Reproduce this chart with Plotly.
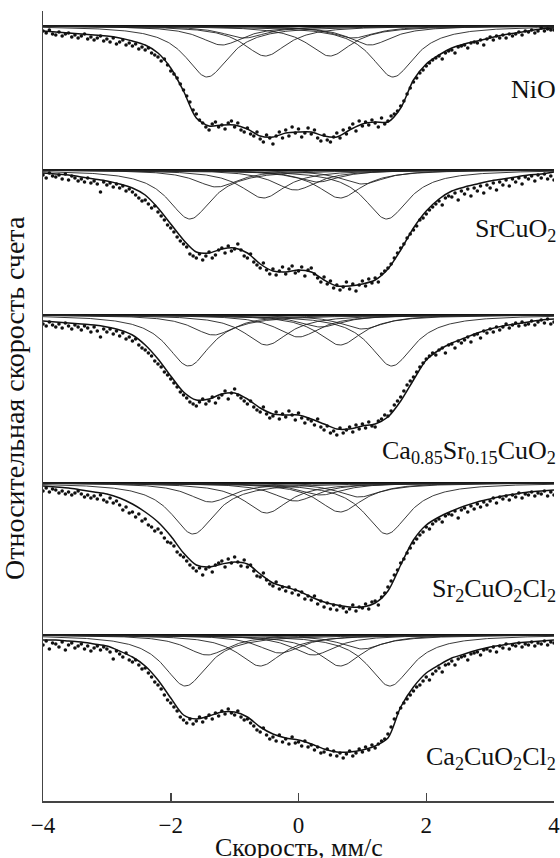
import numpy as np
import plotly.graph_objects as go

# ---------------- data ----------------
SAMPLES = ["NiO",
           "SrCuO<sub>2</sub>",
           "Ca<sub>0.85</sub>Sr<sub>0.15</sub>CuO<sub>2</sub>",
           "Sr<sub>2</sub>CuO<sub>2</sub>Cl<sub>2</sub>",
           "Ca<sub>2</sub>CuO<sub>2</sub>Cl<sub>2</sub>"]

X_TICKS = [-4, -2, 0, 2, 4]

# velocity grids (mm/s): measured channels and fitted-curve nodes
VEL_DATA = np.round(np.arange(161) * 0.05 - 4.0, 2)
VEL_FIT = np.round(np.arange(41) * 0.2 - 4.0, 2)

# absorption depth (arbitrary units, 0 = baseline) of the fitted envelope
FIT_NIO = [5, 6, 7, 8, 9, 10, 12, 15, 19, 27, 42, 65, 92, 100, 99, 99, 103, 110, 111, 107, 106,
           106, 110, 111, 104, 98, 96, 96, 82, 54, 38, 29, 22, 18, 15, 12, 9, 7, 5, 3, 2]
FIT_SRCUO2 = [3, 4, 5, 7, 9, 11, 14, 18, 25, 38, 54, 70, 82, 83, 79, 78, 83, 94, 101, 102, 100,
              102, 110, 116, 116, 114, 110, 99, 80, 58, 41, 29, 21, 17, 14, 11, 9, 7, 5, 4, 2]
FIT_CASRCUO2 = [6, 7, 8, 9, 10, 12, 15, 20, 30, 44, 61, 77, 85, 84, 79, 78, 84, 93, 99, 100, 100,
                104, 109, 114, 114, 111, 109, 102, 86, 65, 45, 35, 28, 23, 18, 14, 11, 9, 7, 5, 4]
FIT_SR2CUO2CL2 = [3, 4, 5, 7, 9, 11, 15, 21, 29, 39, 53, 70, 82, 84, 81, 79, 81, 91, 100, 104, 108,
                  114, 119, 122, 124, 124, 120, 108, 82, 57, 42, 34, 28, 23, 19, 16, 13, 11, 9, 8, 7]
FIT_CA2CUO2CL2 = [5, 5, 6, 7, 9, 11, 16, 22, 31, 45, 63, 80, 84, 81, 77, 77, 82, 92, 99, 103, 105,
                  109, 114, 117, 117, 115, 111, 103, 72, 52, 38, 30, 23, 19, 15, 12, 10, 8, 7, 6, 5]

# measured points (absorption depth, same units)
DATA_NIO = [5, 7, 4, 8, 9, 6, 10, 8, 7, 11, 9, 12, 10, 8, 13, 11, 14, 12, 10, 15,
            13, 16, 12, 18, 16, 14, 19, 17, 20, 18, 23, 21, 24, 22, 27, 29, 31, 35, 33, 39,
            45, 48, 52, 58, 64, 70, 76, 84, 88, 94, 97, 101, 104, 98, 96, 101, 99, 103, 97, 95,
            101, 97, 104, 106, 102, 108, 110, 106, 113, 116, 109, 112, 118, 110, 106, 112,
            104, 110, 101, 107, 103, 111, 107, 102, 108, 104, 112, 115, 109, 114, 116, 111,
            107, 112, 104, 108, 102, 98, 105, 95, 100, 96, 99, 94, 97, 101, 92, 98, 95, 90, 88, 85,
            80, 75, 68, 62, 56, 52, 47, 44, 40, 37, 34, 32, 30, 33, 27, 25, 24, 27, 21, 20,
            19, 22, 17, 16, 17, 14, 19, 13, 11, 14, 10, 12, 9, 12, 8, 10, 8, 6, 9, 5,
            6, 4, 7, 5, 2, 5, 3, 4, 4]
DATA_SRCUO2 = [5, 8, 3, 6, 7, 5, 9, 4, 10, 6, 8, 11, 9, 12, 8, 13, 11, 14, 22, 12,
               15, 13, 17, 14, 18, 16, 21, 19, 22, 25, 28, 31, 30, 34, 38, 36, 42, 46, 50, 55,
               58, 62, 67, 71, 74, 77, 84, 86, 88, 84, 90, 86, 82, 88, 85, 80, 78, 83, 76, 81,
               79, 74, 80, 86, 88, 84, 92, 95, 98, 93, 100, 104, 99, 105, 101, 97, 104, 99, 96, 103,
               101, 97, 106, 100, 98, 104, 108, 112, 107, 114, 111, 118, 115, 120, 117, 112,
               119, 114, 121, 115, 111, 116, 109, 113, 108, 112, 104, 101, 98, 94, 88, 83,
               78, 74, 68, 64, 60, 56, 50, 48, 44, 40, 37, 34, 31, 35, 28, 26, 27, 23, 30, 21,
               24, 19, 26, 18, 21, 16, 23, 15, 18, 13, 20, 12, 15, 10, 16, 9, 12, 8, 14, 7,
               9, 6, 11, 5, 8, 4, 9, 6, 10]
DATA_CASRCUO2 = [9, 11, 7, 10, 12, 9, 13, 8, 11, 14, 10, 12, 15, 11, 13, 17, 12, 16, 22, 14,
                 17, 14, 19, 16, 21, 18, 24, 22, 26, 24, 30, 33, 35, 38, 41, 46, 49, 52, 57, 60,
                 64, 68, 72, 77, 80, 83, 87, 89, 91, 87, 84, 89, 86, 82, 88, 83, 80, 76, 84, 78,
                 74, 80, 83, 86, 89, 86, 92, 95, 97, 92, 99, 103, 101, 97, 104, 99, 102, 96, 100, 105,
                 98, 103, 108, 104, 106, 110, 104, 112, 115, 111, 118, 116, 120, 113, 118, 115,
                 112, 117, 110, 114, 109, 113, 107, 111, 112, 106, 104, 100, 101, 96, 90, 86,
                 82, 76, 70, 66, 62, 57, 52, 48, 44, 41, 38, 40, 35, 33, 38, 30, 29, 33, 26, 28,
                 25, 22, 27, 20, 19, 23, 16, 18, 14, 17, 12, 15, 12, 9, 13, 10, 8, 11, 7, 10,
                 9, 6, 10, 7, 5, 8, 4, 9, 7]
DATA_SR2CUO2CL2 = [8, 5, 9, 6, 7, 10, 8, 11, 9, 12, 10, 8, 11, 14, 12, 15, 13, 16, 12, 17,
                   19, 15, 20, 18, 22, 27, 24, 30, 29, 34, 31, 38, 36, 42, 44, 48, 46, 50, 55, 59,
                   60, 63, 69, 72, 74, 78, 82, 85, 88, 85, 92, 86, 84, 89, 82, 80, 78, 84, 76, 80,
                   74, 79, 83, 77, 84, 82, 88, 93, 94, 90, 97, 101, 103, 99, 106, 104, 108, 104, 110, 107,
                   112, 109, 116, 113, 117, 113, 121, 118, 124, 120, 126, 122, 127, 123, 125, 129,
                   126, 122, 128, 124, 125, 121, 126, 119, 118, 122, 114, 110, 104, 98, 92, 87,
                   80, 76, 70, 65, 60, 56, 52, 49, 44, 46, 41, 38, 36, 39, 33, 31, 32, 28, 35, 27,
                   25, 29, 23, 26, 21, 24, 19, 22, 18, 15, 20, 14, 16, 13, 17, 12, 14, 10, 15, 11,
                   12, 9, 13, 10, 11, 8, 13, 9, 12]
DATA_CA2CUO2CL2 = [10, 6, 14, 8, 9, 12, 7, 15, 10, 8, 13, 11, 9, 14, 11, 16, 13, 11, 15, 12,
                   14, 17, 24, 16, 19, 22, 18, 25, 27, 25, 30, 34, 33, 38, 42, 47, 50, 54, 60, 65,
                   68, 72, 76, 82, 85, 88, 84, 89, 86, 82, 87, 83, 80, 84, 78, 81, 76, 79, 74, 78,
                   80, 76, 82, 85, 84, 88, 91, 95, 97, 93, 100, 104, 102, 106, 100, 107, 104, 109, 102, 108,
                   107, 111, 106, 112, 110, 115, 112, 118, 117, 114, 120, 116, 121, 118, 123, 119,
                   116, 121, 118, 114, 117, 112, 115, 110, 113, 109, 106, 104, 99, 92, 84, 78,
                   73, 68, 64, 60, 56, 52, 50, 46, 42, 45, 39, 36, 33, 37, 30, 29, 26, 30, 24, 22,
                   21, 25, 19, 18, 17, 20, 15, 14, 16, 12, 17, 11, 13, 9, 14, 10, 11, 8, 12, 9,
                   10, 7, 11, 8, 9, 6, 10, 7, 8]

# sub-spectra (Lorentzian lines): positions (mm/s) and depths (same units)
COMP_POS_NIO = [-1.43, -1.20, -0.85, -0.52, 0.49, 0.85, 1.12, 1.48]
COMP_DEPTH_NIO = [51, 19, 12, 30, 30, 12, 19, 51]
COMP_POS_SRCUO2 = [-1.70, -1.28, -0.55, -0.05, 0.30, 0.65, 1.00, 1.38]
COMP_DEPTH_SRCUO2 = [49, 17, 28, 20, 12, 28, 14, 49]
COMP_POS_CASRCUO2 = [-1.72, -1.33, -0.50, 0.00, 0.35, 0.65, 1.00, 1.46]
COMP_DEPTH_CASRCUO2 = [51, 20, 30, 22, 12, 30, 14, 51]
COMP_POS_SR2CUO2CL2 = [-1.65, -1.38, -0.50, -0.05, 0.35, 0.65, 0.95, 1.38]
COMP_DEPTH_SR2CUO2CL2 = [51, 19, 30, 18, 12, 29, 14, 51]
COMP_POS_CA2CUO2CL2 = [-1.77, -1.43, -0.60, -0.29, 0.23, 0.65, 1.00, 1.43]
COMP_DEPTH_CA2CUO2CL2 = [51, 20, 31, 18, 20, 31, 14, 51]
COMP_HWHM = 0.42

FITS = [FIT_NIO, FIT_SRCUO2, FIT_CASRCUO2, FIT_SR2CUO2CL2, FIT_CA2CUO2CL2]
DATAS = [DATA_NIO, DATA_SRCUO2, DATA_CASRCUO2, DATA_SR2CUO2CL2, DATA_CA2CUO2CL2]
COMP_POS = [COMP_POS_NIO, COMP_POS_SRCUO2, COMP_POS_CASRCUO2, COMP_POS_SR2CUO2CL2, COMP_POS_CA2CUO2CL2]
COMP_DEPTH = [COMP_DEPTH_NIO, COMP_DEPTH_SRCUO2, COMP_DEPTH_CASRCUO2, COMP_DEPTH_SR2CUO2CL2,
              COMP_DEPTH_CA2CUO2CL2]

for f, d in zip(FITS, DATAS):
    assert len(f) == len(VEL_FIT), len(f)
    assert len(d) == len(VEL_DATA), len(d)

# ---------------- layout constants ----------------
W, H = 560, 858
X_LEFT, X_RIGHT = 43, 554
Y_TOP, Y_BOTTOM = 11, 801
PANEL_OFFSET = [26, 170, 315, 483, 635]     # vertical stacking offset of each spectrum
LABEL_Y = [90, 230, 452, 590, 758]
SERIF = "Liberation Serif, Times New Roman, serif"
INK = "#111111"
plot_w = X_RIGHT - X_LEFT
plot_h = Y_BOTTOM - Y_TOP


def px_to_paper_x(px):
    return (px - X_LEFT) / plot_w


def px_to_paper_y(py):
    return (Y_BOTTOM - py) / plot_h


fig = go.Figure()
vel_line = np.linspace(-4, 4, 401)

for i in range(5):
    off = PANEL_OFFSET[i]
    # baseline
    fig.add_trace(go.Scatter(x=[X_TICKS[0], X_TICKS[-1]], y=[off, off], mode="lines",
                             line=dict(color=INK, width=1.8), hoverinfo="skip"))
    # sub-spectra
    for c, dpt in zip(COMP_POS[i], COMP_DEPTH[i]):
        prof = dpt / (1.0 + ((vel_line - c) / COMP_HWHM) ** 2)
        fig.add_trace(go.Scatter(x=vel_line, y=off + prof, mode="lines",
                                 line=dict(color="#222222", width=0.9), hoverinfo="skip"))
    # measured points
    fig.add_trace(go.Scatter(x=VEL_DATA, y=off + np.array(DATAS[i]), mode="markers",
                             marker=dict(color=INK, size=3.6), hoverinfo="skip"))
    # envelope fit
    fig.add_trace(go.Scatter(x=VEL_FIT, y=off + np.array(FITS[i]), mode="lines",
                             line=dict(color=INK, width=1.5, shape="spline", smoothing=0.8),
                             hoverinfo="skip"))
    fig.add_annotation(x=px_to_paper_x(558), y=px_to_paper_y(LABEL_Y[i]), xref="paper", yref="paper",
                       text=SAMPLES[i], showarrow=False, xanchor="right", yanchor="middle",
                       font=dict(family=SERIF, size=26, color=INK))

fig.add_annotation(x=px_to_paper_x(299), y=px_to_paper_y(847), xref="paper", yref="paper",
                   text="Скорость, мм/с", showarrow=False, xanchor="center", yanchor="middle",
                   font=dict(family=SERIF, size=26, color=INK))
fig.add_annotation(x=px_to_paper_x(15), y=px_to_paper_y(398), xref="paper", yref="paper",
                   text="Относительная скорость счета", showarrow=False, textangle=-90,
                   xanchor="center", yanchor="middle",
                   font=dict(family=SERIF, size=28, color=INK))

fig.update_layout(
    width=W, height=H,
    margin=dict(l=X_LEFT, r=W - X_RIGHT, t=Y_TOP, b=H - Y_BOTTOM, pad=0, autoexpand=False),
    paper_bgcolor="white", plot_bgcolor="white",
    showlegend=False, hovermode=False,
    xaxis=dict(range=[-4, 4], tickvals=X_TICKS, ticks="inside", ticklen=8, tickwidth=1.5,
               tickcolor="#444", showline=True, linecolor="#444", linewidth=1.5,
               showgrid=False, zeroline=False, automargin=False, ticklabelstandoff=3,
               ticklabeloverflow="allow",
               tickfont=dict(family=SERIF, size=23, color=INK)),
    yaxis=dict(range=[Y_BOTTOM, Y_TOP], showline=True, linecolor="#444", linewidth=1.5,
               showticklabels=False, ticks="", showgrid=False, zeroline=False, automargin=False),
)

page_fix = ("document.documentElement.style.margin='0';"
            "document.body.style.margin='0';"
            "document.body.style.padding='0';"
            "document.body.style.overflow='hidden';")
fig.write_html("out.html", post_script=page_fix,
               config={"displayModeBar": False, "staticPlot": True})
